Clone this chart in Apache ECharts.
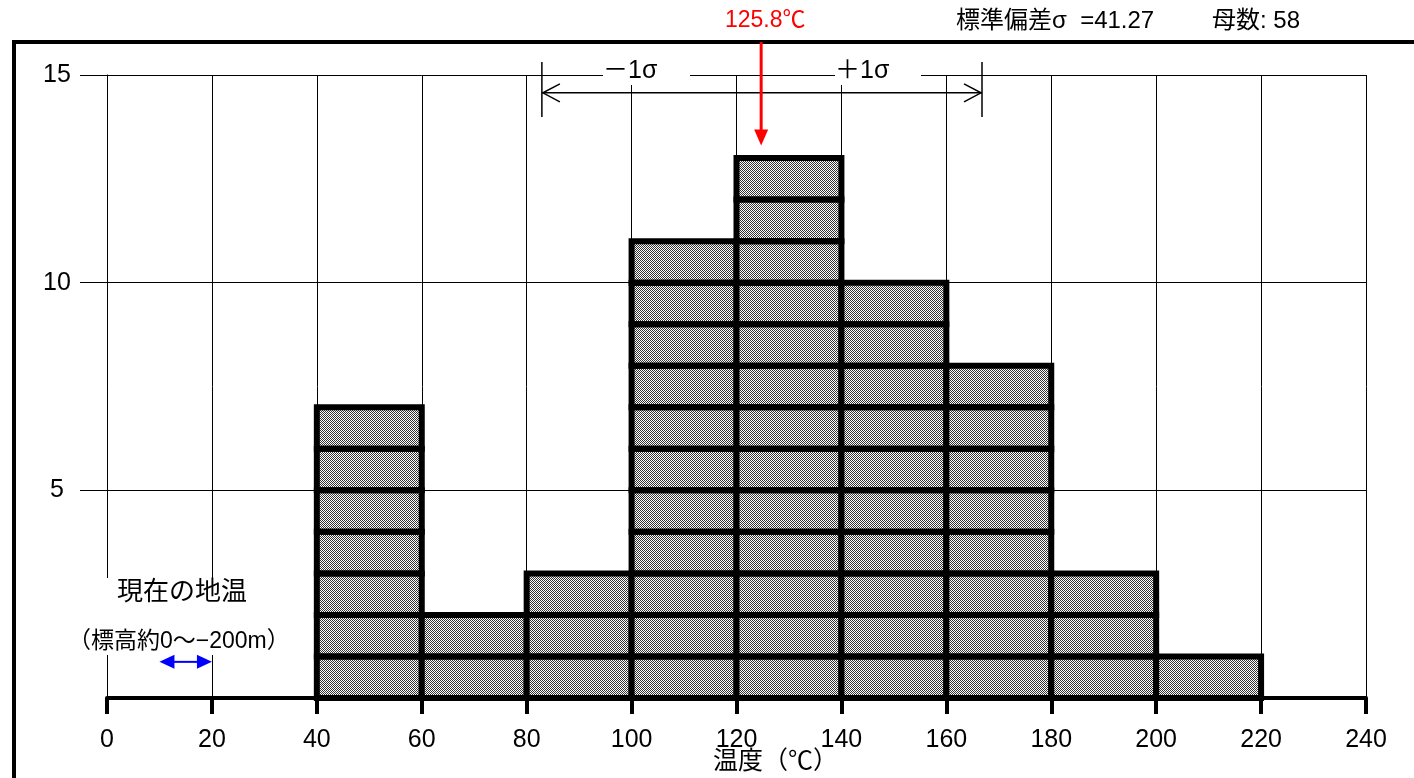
<!DOCTYPE html>
<html><head><meta charset="utf-8">
<script src="https://cdn.jsdelivr.net/npm/echarts@6/dist/echarts.min.js"></script>
<style>html,body{margin:0;padding:0;background:#fff}#c{width:1414px;height:778px}</style>
</head><body><div id="c"></div>
<script>
// ---- data ----
const binStarts = [40, 60, 80, 100, 120, 140, 160, 180, 200];
const binWidth = 20;
const counts = [7, 2, 3, 11, 13, 10, 8, 3, 1];
const yLabelTicks = [5, 10, 15];
const meanValue = 125.8;
const sigmaValue = 41.27;
const totalCount = 58;
const meanMarkX = 124.7;       // position of red arrow as drawn
const sigmaBracket = [82.9, 166.8]; // -1σ / +1σ bracket ends as drawn
const currentRange = [10, 20];  // current ground temperature range (blue arrow)

const FONT = "'Liberation Sans', 'Noto Sans CJK JP', sans-serif";

const pc = document.createElement('canvas');
pc.width = 2; pc.height = 2;
const g2 = pc.getContext('2d');
g2.fillStyle = '#fff'; g2.fillRect(0, 0, 2, 2);
g2.fillStyle = '#333'; g2.fillRect(0, 0, 1, 1); g2.fillRect(1, 1, 1, 1);
const pattern = { image: pc, repeat: 'repeat' };

const histData = binStarts.map((s, i) => [s, s + binWidth, counts[i]]);

const chart = echarts.init(document.getElementById('c'), null, { renderer: 'canvas' });
chart.setOption({
  animation: false,
  backgroundColor: '#fff',
  grid: { left: 107, right: 48, top: 75, bottom: 80 },
  xAxis: {
    type: 'value', min: 0, max: 240, interval: 20,
    axisLine: { show: true, onZero: false, lineStyle: { color: '#000', width: 4 } },
    axisTick: { show: true, length: 16, lineStyle: { color: '#000', width: 4 } },
    axisLabel: { margin: 30, fontSize: 25, color: '#000', fontFamily: FONT },
    splitLine: { show: true, lineStyle: { color: '#000', width: 1 } }
  },
  yAxis: {
    type: 'value', min: 0, max: 15, interval: 1,
    axisLine: { show: true, lineStyle: { color: '#000', width: 1 } },
    axisTick: { show: true, customValues: yLabelTicks, length: 27, lineStyle: { color: '#000', width: 1 } },
    axisLabel: { customValues: yLabelTicks, margin: 50, align: 'center', fontSize: 25, color: '#000', fontFamily: FONT },
    splitLine: { show: true, lineStyle: { color: '#000', width: 1 } }
  },
  series: [{
    type: 'custom',
    data: histData,
    encode: { x: [0, 1], y: 2 },
    renderItem: function (params, api) {
      const s = api.value(0), e = api.value(1), n = api.value(2);
      const fills = [], strokes = [];
      for (let k = 0; k < n; k++) {
        const p0 = api.coord([s, k + 1]);
        const p1 = api.coord([e, k]);
        const shape = { x: p0[0], y: p0[1], width: p1[0] - p0[0], height: p1[1] - p0[1] };
        fills.push({ type: 'rect', shape: shape, style: { fill: pattern, stroke: null } });
        strokes.push({ type: 'rect', shape: shape, style: { fill: null, stroke: '#000', lineWidth: 6 } });
      }
      return { type: 'group', children: fills.concat(strokes) };
    },
    z: 3
  }]
});

function px(v) { return chart.convertToPixel({ gridIndex: 0 }, v); }

const red = '#ff0000', blue = '#0000ff';
const aTop = [px([meanMarkX, 0])[0], 42];
const aTip = px([meanMarkX, 13.3]);
const bL = px([sigmaBracket[0], 14.57]);
const bR = px([sigmaBracket[1], 14.57]);
const bTop = px([0, 15.31])[1], bBot = px([0, 13.99])[1];
const cL = px([currentRange[0], 0.87]);
const cR = px([currentRange[1], 0.87]);

const graphics = [
  // outer frame
  { type: 'line', shape: { x1: 12, y1: 42, x2: 1414, y2: 42 }, style: { stroke: '#000', lineWidth: 4 }, z: 20 },
  { type: 'line', shape: { x1: 14, y1: 40, x2: 14, y2: 778 }, style: { stroke: '#000', lineWidth: 4 }, z: 20 },
  // top texts
  { type: 'text', x: 956, y: 21, style: { text: '標準偏差σ  =' + sigmaValue, font: '24px ' + FONT, fill: '#000', verticalAlign: 'middle' }, z: 20 },
  { type: 'text', x: 1212, y: 21, style: { text: '母数: ' + totalCount, font: '24px ' + FONT, fill: '#000', verticalAlign: 'middle' }, z: 20 },
  { type: 'text', x: aTop[0] + 4, y: 21, style: { text: meanValue + '℃', font: '23px ' + FONT, fill: red, align: 'center', verticalAlign: 'middle' }, z: 20 },
  // red arrow
  { type: 'line', shape: { x1: aTop[0], y1: aTop[1], x2: aTip[0], y2: aTip[1] - 12 }, style: { stroke: red, lineWidth: 3 }, z: 20 },
  { type: 'polygon', shape: { points: [[aTip[0] - 7, aTip[1] - 16], [aTip[0] + 7, aTip[1] - 16], [aTip[0], aTip[1]]] }, style: { fill: red }, z: 20 },
  // sigma bracket
  { type: 'rect', shape: { x: 603, y: 62, width: 87, height: 23 }, style: { fill: '#fff' }, z: 10 },
  { type: 'rect', shape: { x: 835, y: 62, width: 86, height: 23 }, style: { fill: '#fff' }, z: 10 },
  { type: 'text', x: 603, y: 71, style: { text: '－1σ', font: '25px ' + FONT, fill: '#000', verticalAlign: 'middle' }, z: 11 },
  { type: 'text', x: 835, y: 71, style: { text: '＋1σ', font: '25px ' + FONT, fill: '#000', verticalAlign: 'middle' }, z: 11 },
  { type: 'line', shape: { x1: bL[0], y1: bTop, x2: bL[0], y2: bBot }, style: { stroke: '#000', lineWidth: 1.5 }, z: 12 },
  { type: 'line', shape: { x1: bR[0], y1: bTop, x2: bR[0], y2: bBot }, style: { stroke: '#000', lineWidth: 1.5 }, z: 12 },
  { type: 'line', shape: { x1: bL[0], y1: bL[1], x2: bR[0], y2: bR[1] }, style: { stroke: '#000', lineWidth: 1.5 }, z: 12 },
  { type: 'polyline', shape: { points: [[bL[0] + 18, bL[1] - 9], [bL[0] + 1, bL[1]], [bL[0] + 18, bL[1] + 9]] }, style: { stroke: '#000', lineWidth: 1.5, fill: null }, z: 12 },
  { type: 'polyline', shape: { points: [[bR[0] - 18, bR[1] - 9], [bR[0] - 1, bR[1]], [bR[0] - 18, bR[1] + 9]] }, style: { stroke: '#000', lineWidth: 1.5, fill: null }, z: 12 },
  // current ground temperature label
  { type: 'rect', shape: { x: 104, y: 578, width: 190, height: 77 }, style: { fill: '#fff' }, z: 10 },
  { type: 'text', x: 117, y: 593, style: { text: '現在の地温', font: '26px ' + FONT, fill: '#000', verticalAlign: 'middle' }, z: 11 },
  { type: 'text', x: 68, y: 642, style: { text: '（標高約0〜−200m）', font: '23px ' + FONT, fill: '#000', verticalAlign: 'middle' }, z: 11 },
  { type: 'line', shape: { x1: cL[0] + 12, y1: cL[1], x2: cR[0] - 12, y2: cR[1] }, style: { stroke: blue, lineWidth: 2 }, z: 12 },
  { type: 'polygon', shape: { points: [[cL[0], cL[1]], [cL[0] + 15, cL[1] - 7], [cL[0] + 15, cL[1] + 7]] }, style: { fill: blue }, z: 12 },
  { type: 'polygon', shape: { points: [[cR[0], cR[1]], [cR[0] - 15, cR[1] - 7], [cR[0] - 15, cR[1] + 7]] }, style: { fill: blue }, z: 12 },
  // axis name
  { type: 'text', x: 713, y: 762, style: { text: '温度（℃）', font: '25px ' + FONT, fill: '#000', verticalAlign: 'middle' }, z: 20 }
];
chart.setOption({ graphic: graphics });
</script>
</body></html>
